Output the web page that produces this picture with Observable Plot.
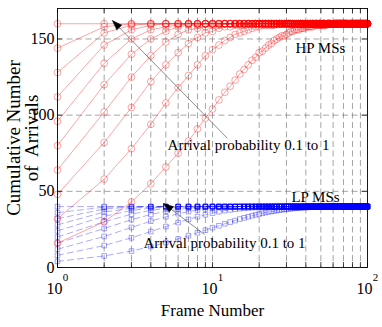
<!DOCTYPE html>
<html><head><meta charset="utf-8">
<script src="https://cdn.jsdelivr.net/npm/d3@7"></script>
<script src="https://cdn.jsdelivr.net/npm/@observablehq/plot@0.6"></script>
<style>html,body{margin:0;padding:0;background:#fff;}</style>
</head><body><div id="chart"></div>
<script>
// ---- data ----
const frames = [
  1,2,3,4,5,6,7,8,9,10, 11,12,13,14,15,16,17,18,19,20,
  21,22,23,24,25,26,27,28,29,30, 31,32,33,34,35,36,37,38,39,40,
  41,42,43,44,45,46,47,48,49,50, 51,52,53,54,55,56,57,58,59,60,
  61,62,63,64,65,66,67,68,69,70, 71,72,73,74,75,76,77,78,79,80,
  81,82,83,84,85,86,87,88,89,90, 91,92,93,94,95,96,97,98,99,100];
const probabilities = [0.1,0.2,0.3,0.4,0.5,0.6,0.7,0.8,0.9,1.0];

// HP MSs cumulative arrivals (one value per frame 1..100)
const hpP01 = [16,30,43,55,66,75,83,91,98,104, 110,115,119,123,127,130,133,136,138,141,
  142,144,146,147,149,150,151,152,152,153, 154,155,155,156,156,156,157,157,157,158,
  158,158,158,158,159,159,159,159,159,159, 159,159,159,159,160,160,160,160,160,160,
  160,160,160,160,160,160,160,160,160,160, 160,160,160,160,160,160,160,160,160,160,
  160,160,160,160,160,160,160,160,160,160, 160,160,160,160,160,160,160,160,160,160];
const hpP02 = [32,58,78,94,108,118,126,133,139,143, 146,149,151,153,154,155,156,157,158,158,
  159,159,159,159,159,160,160,160,160,160, 160,160,160,160,160,160,160,160,160,160,
  160,160,160,160,160,160,160,160,160,160, 160,160,160,160,160,160,160,160,160,160,
  160,160,160,160,160,160,160,160,160,160, 160,160,160,160,160,160,160,160,160,160,
  160,160,160,160,160,160,160,160,160,160, 160,160,160,160,160,160,160,160,160,160];
const hpP03 = [48,82,105,122,133,141,147,151,154,155, 157,158,158,159,159,159,160,160,160,160,
  160,160,160,160,160,160,160,160,160,160, 160,160,160,160,160,160,160,160,160,160,
  160,160,160,160,160,160,160,160,160,160, 160,160,160,160,160,160,160,160,160,160,
  160,160,160,160,160,160,160,160,160,160, 160,160,160,160,160,160,160,160,160,160,
  160,160,160,160,160,160,160,160,160,160, 160,160,160,160,160,160,160,160,160,160];
const hpP04 = [64,102,125,139,148,153,156,157,158,159, 159,160,160,160,160,160,160,160,160,160,
  160,160,160,160,160,160,160,160,160,160, 160,160,160,160,160,160,160,160,160,160,
  160,160,160,160,160,160,160,160,160,160, 160,160,160,160,160,160,160,160,160,160,
  160,160,160,160,160,160,160,160,160,160, 160,160,160,160,160,160,160,160,160,160,
  160,160,160,160,160,160,160,160,160,160, 160,160,160,160,160,160,160,160,160,160];
const hpP05 = [80,120,140,150,155,158,159,159,160,160, 160,160,160,160,160,160,160,160,160,160,
  160,160,160,160,160,160,160,160,160,160, 160,160,160,160,160,160,160,160,160,160,
  160,160,160,160,160,160,160,160,160,160, 160,160,160,160,160,160,160,160,160,160,
  160,160,160,160,160,160,160,160,160,160, 160,160,160,160,160,160,160,160,160,160,
  160,160,160,160,160,160,160,160,160,160, 160,160,160,160,160,160,160,160,160,160];
const hpP06 = [96,134,150,156,158,159,160,160,160,160, 160,160,160,160,160,160,160,160,160,160,
  160,160,160,160,160,160,160,160,160,160, 160,160,160,160,160,160,160,160,160,160,
  160,160,160,160,160,160,160,160,160,160, 160,160,160,160,160,160,160,160,160,160,
  160,160,160,160,160,160,160,160,160,160, 160,160,160,160,160,160,160,160,160,160,
  160,160,160,160,160,160,160,160,160,160, 160,160,160,160,160,160,160,160,160,160];
const hpP07 = [112,146,156,159,160,160,160,160,160,160, 160,160,160,160,160,160,160,160,160,160,
  160,160,160,160,160,160,160,160,160,160, 160,160,160,160,160,160,160,160,160,160,
  160,160,160,160,160,160,160,160,160,160, 160,160,160,160,160,160,160,160,160,160,
  160,160,160,160,160,160,160,160,160,160, 160,160,160,160,160,160,160,160,160,160,
  160,160,160,160,160,160,160,160,160,160, 160,160,160,160,160,160,160,160,160,160];
const hpP08 = [128,154,159,160,160,160,160,160,160,160, 160,160,160,160,160,160,160,160,160,160,
  160,160,160,160,160,160,160,160,160,160, 160,160,160,160,160,160,160,160,160,160,
  160,160,160,160,160,160,160,160,160,160, 160,160,160,160,160,160,160,160,160,160,
  160,160,160,160,160,160,160,160,160,160, 160,160,160,160,160,160,160,160,160,160,
  160,160,160,160,160,160,160,160,160,160, 160,160,160,160,160,160,160,160,160,160];
const hpP09 = [144,158,160,160,160,160,160,160,160,160, 160,160,160,160,160,160,160,160,160,160,
  160,160,160,160,160,160,160,160,160,160, 160,160,160,160,160,160,160,160,160,160,
  160,160,160,160,160,160,160,160,160,160, 160,160,160,160,160,160,160,160,160,160,
  160,160,160,160,160,160,160,160,160,160, 160,160,160,160,160,160,160,160,160,160,
  160,160,160,160,160,160,160,160,160,160, 160,160,160,160,160,160,160,160,160,160];
const hpP10 = [160,160,160,160,160,160,160,160,160,160, 160,160,160,160,160,160,160,160,160,160,
  160,160,160,160,160,160,160,160,160,160, 160,160,160,160,160,160,160,160,160,160,
  160,160,160,160,160,160,160,160,160,160, 160,160,160,160,160,160,160,160,160,160,
  160,160,160,160,160,160,160,160,160,160, 160,160,160,160,160,160,160,160,160,160,
  160,160,160,160,160,160,160,160,160,160, 160,160,160,160,160,160,160,160,160,160];

// LP MSs cumulative arrivals (one value per frame 1..100)
const lpP01 = [4,7.6,10.8,13.8,16.4,18.7,20.9,22.8,24.5,26.1, 27.4,28.7,29.8,30.8,31.8,32.6,33.3,34.0,34.6,35.1,
  35.6,36.1,36.5,36.8,37.1,37.4,37.7,37.9,38.1,38.3, 38.5,38.6,38.8,38.9,39.0,39.1,39.2,39.3,39.3,39.4,
  39.5,39.5,39.6,39.6,39.7,39.7,39.7,39.7,39.8,39.8, 39.8,39.8,39.8,39.9,39.9,39.9,39.9,39.9,39.9,39.9,
  39.9,39.9,39.9,40,40,40,40,40,40,40, 40,40,40,40,40,40,40,40,40,40,
  40,40,40,40,40,40,40,40,40,40, 40,40,40,40,40,40,40,40,40,40];
const lpP02 = [8,14.4,19.5,23.6,26.9,29.5,31.6,33.3,34.6,35.7, 36.6,37.3,37.8,38.2,38.6,38.9,39.1,39.3,39.4,39.5,
  39.6,39.7,39.8,39.8,39.8,39.9,39.9,39.9,39.9,40, 40,40,40,40,40,40,40,40,40,40,
  40,40,40,40,40,40,40,40,40,40, 40,40,40,40,40,40,40,40,40,40,
  40,40,40,40,40,40,40,40,40,40, 40,40,40,40,40,40,40,40,40,40,
  40,40,40,40,40,40,40,40,40,40, 40,40,40,40,40,40,40,40,40,40];
const lpP03 = [12,20.4,26.3,30.4,33.3,35.3,36.7,37.7,38.4,38.9, 39.2,39.4,39.6,39.7,39.8,39.9,39.9,39.9,40,40,
  40,40,40,40,40,40,40,40,40,40, 40,40,40,40,40,40,40,40,40,40,
  40,40,40,40,40,40,40,40,40,40, 40,40,40,40,40,40,40,40,40,40,
  40,40,40,40,40,40,40,40,40,40, 40,40,40,40,40,40,40,40,40,40,
  40,40,40,40,40,40,40,40,40,40, 40,40,40,40,40,40,40,40,40,40];
const lpP04 = [16,25.6,31.4,34.8,36.9,38.1,38.9,39.3,39.6,39.8, 39.9,39.9,39.9,40,40,40,40,40,40,40,
  40,40,40,40,40,40,40,40,40,40, 40,40,40,40,40,40,40,40,40,40,
  40,40,40,40,40,40,40,40,40,40, 40,40,40,40,40,40,40,40,40,40,
  40,40,40,40,40,40,40,40,40,40, 40,40,40,40,40,40,40,40,40,40,
  40,40,40,40,40,40,40,40,40,40, 40,40,40,40,40,40,40,40,40,40];
const lpP05 = [20,30,35,37.5,38.8,39.4,39.7,39.8,39.9,40, 40,40,40,40,40,40,40,40,40,40,
  40,40,40,40,40,40,40,40,40,40, 40,40,40,40,40,40,40,40,40,40,
  40,40,40,40,40,40,40,40,40,40, 40,40,40,40,40,40,40,40,40,40,
  40,40,40,40,40,40,40,40,40,40, 40,40,40,40,40,40,40,40,40,40,
  40,40,40,40,40,40,40,40,40,40, 40,40,40,40,40,40,40,40,40,40];
const lpP06 = [24,33.6,37.4,39.0,39.6,39.8,39.9,40,40,40, 40,40,40,40,40,40,40,40,40,40,
  40,40,40,40,40,40,40,40,40,40, 40,40,40,40,40,40,40,40,40,40,
  40,40,40,40,40,40,40,40,40,40, 40,40,40,40,40,40,40,40,40,40,
  40,40,40,40,40,40,40,40,40,40, 40,40,40,40,40,40,40,40,40,40,
  40,40,40,40,40,40,40,40,40,40, 40,40,40,40,40,40,40,40,40,40];
const lpP07 = [28,36.4,38.9,39.7,39.9,40,40,40,40,40, 40,40,40,40,40,40,40,40,40,40,
  40,40,40,40,40,40,40,40,40,40, 40,40,40,40,40,40,40,40,40,40,
  40,40,40,40,40,40,40,40,40,40, 40,40,40,40,40,40,40,40,40,40,
  40,40,40,40,40,40,40,40,40,40, 40,40,40,40,40,40,40,40,40,40,
  40,40,40,40,40,40,40,40,40,40, 40,40,40,40,40,40,40,40,40,40];
const lpP08 = [32,38.4,39.7,39.9,40,40,40,40,40,40, 40,40,40,40,40,40,40,40,40,40,
  40,40,40,40,40,40,40,40,40,40, 40,40,40,40,40,40,40,40,40,40,
  40,40,40,40,40,40,40,40,40,40, 40,40,40,40,40,40,40,40,40,40,
  40,40,40,40,40,40,40,40,40,40, 40,40,40,40,40,40,40,40,40,40,
  40,40,40,40,40,40,40,40,40,40, 40,40,40,40,40,40,40,40,40,40];
const lpP09 = [36,39.6,40,40,40,40,40,40,40,40, 40,40,40,40,40,40,40,40,40,40,
  40,40,40,40,40,40,40,40,40,40, 40,40,40,40,40,40,40,40,40,40,
  40,40,40,40,40,40,40,40,40,40, 40,40,40,40,40,40,40,40,40,40,
  40,40,40,40,40,40,40,40,40,40, 40,40,40,40,40,40,40,40,40,40,
  40,40,40,40,40,40,40,40,40,40, 40,40,40,40,40,40,40,40,40,40];
const lpP10 = [40,40,40,40,40,40,40,40,40,40, 40,40,40,40,40,40,40,40,40,40,
  40,40,40,40,40,40,40,40,40,40, 40,40,40,40,40,40,40,40,40,40,
  40,40,40,40,40,40,40,40,40,40, 40,40,40,40,40,40,40,40,40,40,
  40,40,40,40,40,40,40,40,40,40, 40,40,40,40,40,40,40,40,40,40,
  40,40,40,40,40,40,40,40,40,40, 40,40,40,40,40,40,40,40,40,40];

const hpSeries = [hpP01,hpP02,hpP03,hpP04,hpP05,hpP06,hpP07,hpP08,hpP09,hpP10];
const lpSeries = [lpP01,lpP02,lpP03,lpP04,lpP05,lpP06,lpP07,lpP08,lpP09,lpP10];

// ticks and labels
const xAllTicks = [1,2,3,4,5,6,7,8,9,10,20,30,40,50,60,70,80,90,100];
const xGridTicks = [2,3,4,5,6,7,8,9,10,20,30,40,50,60,70,80,90];
const xMajorTicks = [1,10,100];
const xMajorBase = ["10","10","10"];
const xMajorExp = ["0","1","2"];
const yTicks = [0,50,100,150];
const yGridTicks = [50,100,150];
const xLabel = "Frame Number";
const yLabelLines = ["Cumulative Number", "of\u00a0 Arrivals"];
const groupNames = ["HP MSs", "LP MSs"];
const annotationText = "Arrival probability 0.1 to 1";

// ---- build tables ----
const toRows = (series) => series.flatMap((vals, i) =>
  vals.map((v, j) => ({frame: frames[j], value: v, p: probabilities[i]})));
const hpRows = toRows(hpSeries);
const lpRows = toRows(lpSeries);

// annotation anchors (data coordinates)
const groupLabelRows = [
  {text: groupNames[0], x: 34.3, y: 141},
  {text: groupNames[1], x: 32.3, y: 42.7}
];
const annotationRows = [
  {text: annotationText, x: 5.13, y: 76.8},
  {text: annotationText, x: 3.59, y: 12.5}
];
const arrowRows = [
  {x1: 12.5, y1: 84.7, x2: 2.26, y2: 162.1, angle: -44.5},
  {x1: 8.88, y1: 21.7, x2: 4.83, y2: 42.0, angle: -53}
];

const W = 382, H = 327, ML = 57, MR = 15, MT = 8, MB = 60;
const frameW = W - ML - MR, frameH = H - MT - MB;
const tickLen = 5;

const chart = Plot.plot({
  width: W, height: H,
  marginLeft: ML, marginRight: MR, marginTop: MT, marginBottom: MB,
  x: {type: "log", domain: [1, 100]},
  y: {domain: [0, 170]},
  style: {fontFamily: '"Liberation Serif", "Times New Roman", serif', fontSize: "16px", background: "white", color: "black"},
  marks: [
    // grid
    Plot.ruleX(xGridTicks, {x: d => d, stroke: "#808080", strokeWidth: 0.7, strokeDasharray: "6,3.5"}),
    Plot.ruleY(yGridTicks, {y: d => d, stroke: "#808080", strokeWidth: 0.7, strokeDasharray: "6,3.5"}),
    // LP series
    Plot.line(lpRows, {x: "frame", y: "value", z: "p", stroke: "#0000ff", strokeOpacity: 0.55, strokeWidth: 0.6, strokeDasharray: "6,4"}),
    Plot.dot(lpRows, {x: "frame", y: "value", symbol: "square", r: 2.6, stroke: "#0000ff", strokeOpacity: 0.6, strokeWidth: 0.6, fill: "none"}),
    // HP series
    Plot.line(hpRows, {x: "frame", y: "value", z: "p", stroke: "#ff0000", strokeOpacity: 0.6, strokeWidth: 0.6}),
    Plot.dot(hpRows, {x: "frame", y: "value", r: 3.4, stroke: "#ff0000", strokeOpacity: 0.6, strokeWidth: 0.6, fill: "none"}),
    // ticks (inward)
    Plot.tickX(xAllTicks, {x: d => d, insetTop: frameH - tickLen, stroke: "black", strokeWidth: 0.7}),
    Plot.tickX(xAllTicks, {x: d => d, insetBottom: frameH - tickLen, stroke: "black", strokeWidth: 0.7}),
    Plot.tickY(yTicks, {y: d => d, insetRight: frameW - tickLen, stroke: "black", strokeWidth: 0.7}),
    Plot.tickY(yTicks, {y: d => d, insetLeft: frameW - tickLen, stroke: "black", strokeWidth: 0.7}),
    Plot.frame({stroke: "black", strokeWidth: 0.9}),
    // axes
    Plot.axisY({ticks: yTicks, tickSize: 0, tickPadding: 3, label: null, fontSize: 16}),
    Plot.axisX({ticks: xMajorTicks, tickSize: 0, tickPadding: 15, label: null, fontSize: 16, dx: -3,
      tickFormat: (d) => xMajorBase[xMajorTicks.indexOf(d)]}),
    Plot.text(xMajorTicks, {x: d => d, text: (d, i) => xMajorExp[i], frameAnchor: "bottom", dy: 13, dx: 8, lineAnchor: "bottom", fontSize: 11}),
    // axis labels
    Plot.text([xLabel], {text: d => d, frameAnchor: "bottom", dy: 48, lineAnchor: "bottom", fontSize: 17}),
    Plot.text([yLabelLines[0]], {text: d => d, frameAnchor: "left", textAnchor: "middle", dx: -38, rotate: -90, lineAnchor: "bottom", fontSize: 19}),
    Plot.text([yLabelLines[1]], {text: d => d, frameAnchor: "left", textAnchor: "middle", dx: -20, rotate: -90, lineAnchor: "bottom", fontSize: 19}),
    // annotations
    Plot.text(groupLabelRows, {x: "x", y: "y", text: "text", textAnchor: "start", lineAnchor: "bottom", fontSize: 15}),
    Plot.text(annotationRows, {x: "x", y: "y", text: "text", textAnchor: "start", lineAnchor: "bottom", fontSize: 15}),
    Plot.link(arrowRows, {x1: "x1", y1: "y1", x2: "x2", y2: "y2", stroke: "#707070", strokeWidth: 0.8}),
    Plot.vector(arrowRows, {x: "x2", y: "y2", rotate: "angle", length: 10, r: 3.5, shape: "spike", anchor: "end", fill: "black", stroke: "black", strokeWidth: 0.5})
  ]
});
document.getElementById("chart").appendChild(chart);
</script></body></html>
